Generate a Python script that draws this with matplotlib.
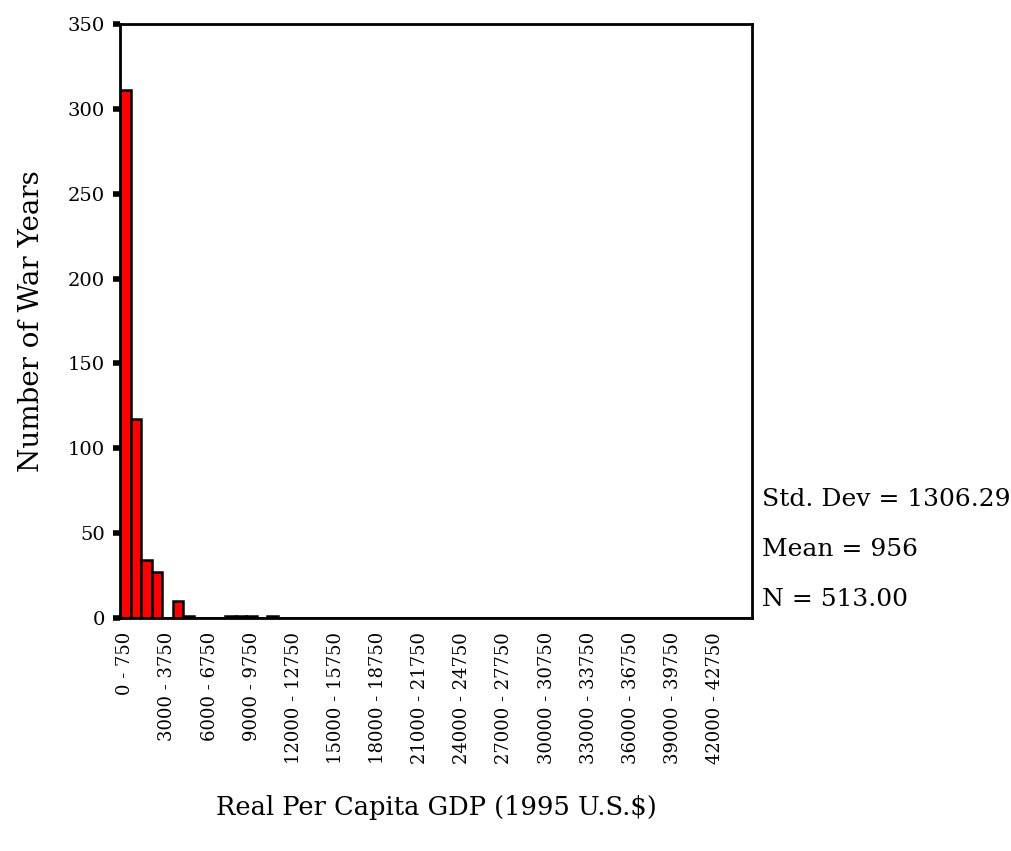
import matplotlib
matplotlib.use("Agg")
import matplotlib.pyplot as plt
import numpy as np

# histogram of real per capita GDP, bins of 750 (1995 U.S.$)
bin_width = 750
n_bins = 60
bin_lefts = [i * bin_width for i in range(n_bins)]
counts = [311, 117, 34, 27, 0, 10, 1, 0, 0, 0, 1, 1, 1, 0, 1] + [0] * 45

label_bins = list(range(0, 57, 4))
tick_labels = [f"{bin_lefts[i]} - {bin_lefts[i] + bin_width}" for i in label_bins]

stats_lines = ["Std. Dev = 1306.29", "Mean = 956", "N = 513.00"]

plt.rcParams["font.family"] = ["DejaVu Serif"]

fig = plt.figure(figsize=(10.12, 8.51), dpi=100)
ax = fig.add_axes([120 / 1012, 1 - 618 / 851, 632 / 1012, 594 / 851])

ax.bar(bin_lefts, counts, width=bin_width, align="edge",
       color="#ff0000", edgecolor="black", linewidth=1.8)

ax.set_xlim(0, n_bins * bin_width)
ax.set_ylim(0, 350)
ax.set_yticks(np.arange(0, 351, 50))
ax.tick_params(axis="y", direction="out", length=5, width=4, labelsize=14, pad=6)
# SPSS nudges the bottom label up a bit
ax.get_yticklabels()[0].set_y(0)
ax.set_xticks([bin_lefts[i] + bin_width / 2 for i in label_bins])
ax.set_xticklabels(tick_labels, rotation=90, fontsize=13)
ax.tick_params(axis="x", length=0, pad=10)
for s in ax.spines.values():
    s.set_linewidth(2)

ax.set_ylabel("Number of War Years", fontsize=20, labelpad=16)
ax.set_xlabel("Real Per Capita GDP (1995 U.S.$)", fontsize=18.5, labelpad=22)

for k, txt in enumerate(stats_lines):
    fig.text(762 / 1012, 1 - (500 + 50 * k) / 851, txt, fontsize=18,
             ha="left", va="center")

fig.savefig("out.png", dpi=100)
